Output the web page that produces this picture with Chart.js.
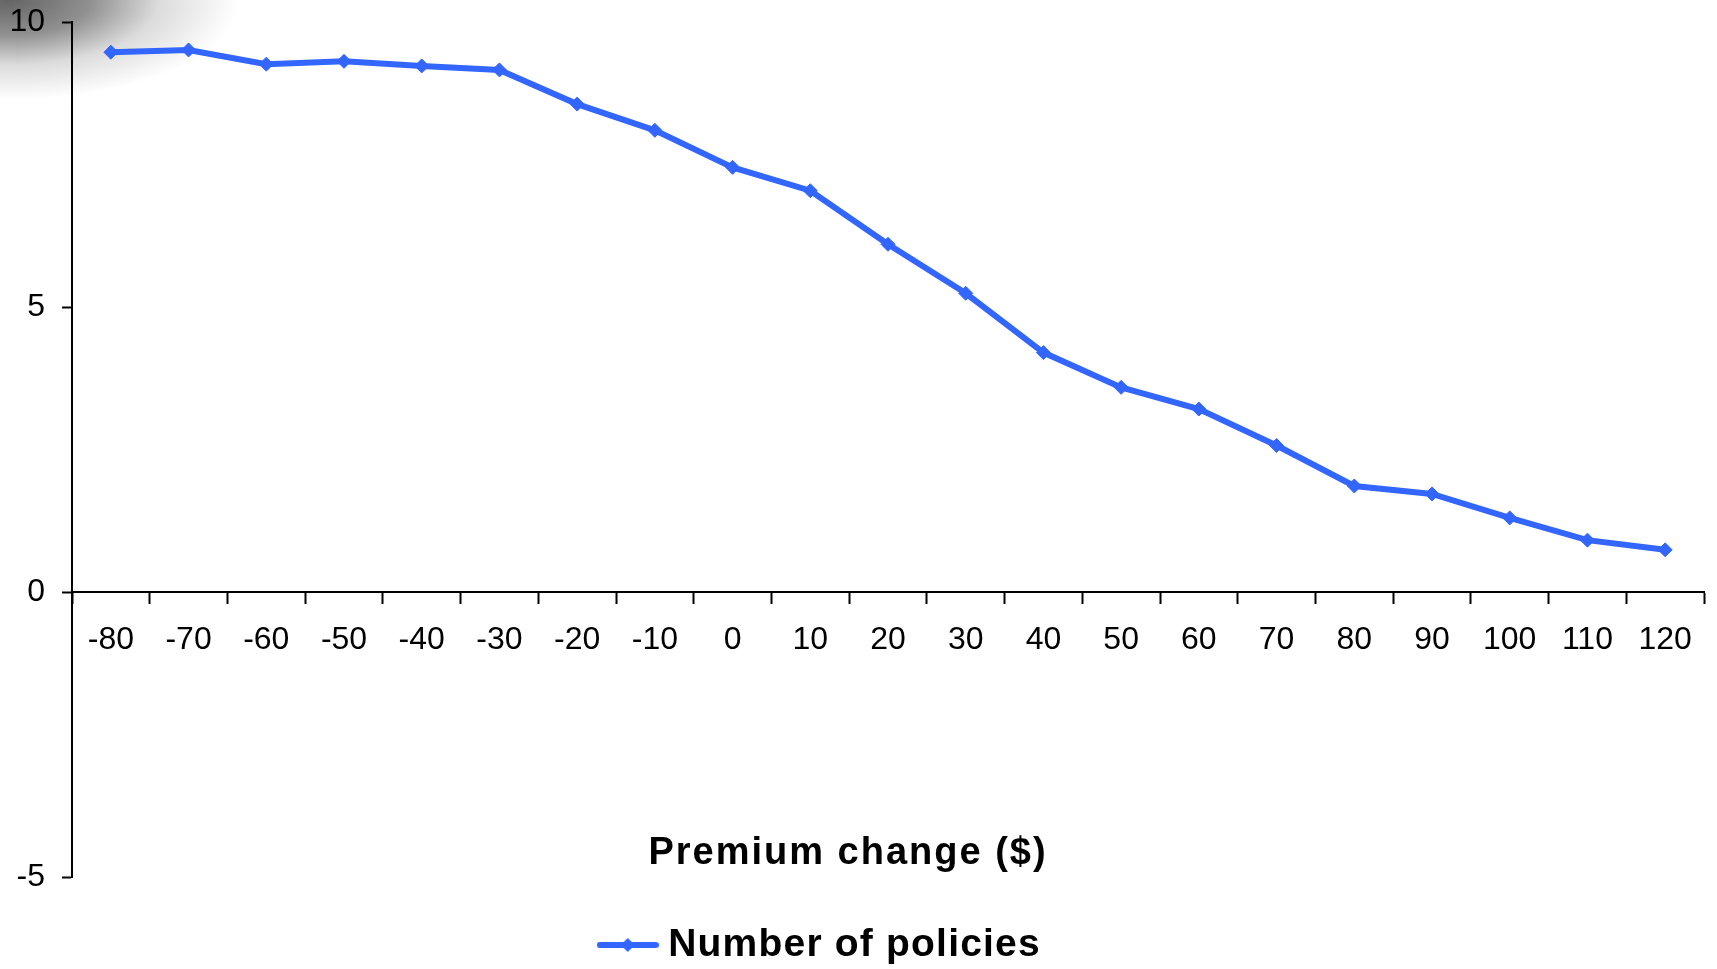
<!DOCTYPE html>
<html>
<head>
<meta charset="utf-8">
<script src="https://cdn.jsdelivr.net/npm/chart.js@4/dist/chart.umd.min.js"></script>
<style>
  html, body { margin: 0; padding: 0; }
  body {
    width: 1717px; height: 969px; overflow: hidden;
    background:
      radial-gradient(ellipse 230px 100px at 10px 0px, rgba(100,100,100,1) 0%, rgba(125,125,125,0.85) 35%, rgba(185,185,185,0.5) 65%, rgba(255,255,255,0) 100%),
      #ffffff;
  }
  #wrap { position: relative; width: 1717px; height: 969px; }
</style>
</head>
<body>
<div id="wrap"><canvas id="c"></canvas></div>
<script>
// ---- data ----
const categories = ["-80","-70","-60","-50","-40","-30","-20","-10","0","10","20","30","40","50","60","70","80","90","100","110","120"];
const policies = [9.47, 9.51, 9.26, 9.31, 9.23, 9.16, 8.56, 8.10, 7.45, 7.04, 6.10, 5.24, 4.20, 3.59, 3.21, 2.57, 1.86, 1.72, 1.30, 0.91, 0.74];
const seriesName = "Number of policies";
const xTitle = "Premium change ($)";
const yMin = -5, yMax = 10, yStep = 5;

const BLUE = '#3366FF';
const FONT = "'Liberation Sans', Arial, sans-serif";
const LEGEND_SIZE = 39;
const LEGEND_PAD = 7;

// legend symbol: line with diamond
const sym = document.createElement('canvas');
sym.width = 62; sym.height = 18;
(function () {
  const g = sym.getContext('2d');
  g.strokeStyle = BLUE; g.lineWidth = 6; g.lineCap = 'round';
  g.beginPath(); g.moveTo(3, 9); g.lineTo(59, 9); g.stroke();
  g.fillStyle = BLUE;
  g.beginPath(); g.moveTo(31, 2); g.lineTo(38, 9); g.lineTo(31, 16); g.lineTo(24, 9); g.closePath(); g.fill();
})();

const xTitlePlugin = {
  id: 'xTitlePlugin',
  afterDraw(chart) {
    const ctx = chart.ctx;
    ctx.save();
    ctx.font = "bold 38px " + FONT;
    try { ctx.letterSpacing = '2px'; } catch (e) {}
    ctx.fillStyle = '#000';
    ctx.textAlign = 'center';
    ctx.textBaseline = 'middle';
    ctx.fillText(xTitle, 848, 854);
    ctx.restore();
  }
};

const legendPlace = {
  id: 'legendPlace',
  afterLayout(chart) {
    const lg = chart.legend;
    if (!lg) return;
    lg.left -= 45; lg.right -= 45;
    const dy = 945 - (lg.top + LEGEND_PAD + LEGEND_SIZE / 2);
    lg.top += dy; lg.bottom += dy;
    if (!lg._spacedDraw) {
      const orig = lg.draw;
      lg.draw = function (...args) {
        const c = this.ctx;
        const prev = c.letterSpacing;
        try { c.letterSpacing = '1.2px'; } catch (e) {}
        orig.apply(this, args);
        try { c.letterSpacing = prev || '0px'; } catch (e) {}
      };
      lg._spacedDraw = true;
    }
  }
};

new Chart(document.getElementById('c'), {
  type: 'line',
  data: {
    labels: categories,
    datasets: [{
      label: seriesName,
      data: policies,
      borderColor: BLUE,
      backgroundColor: BLUE,
      borderWidth: 6,
      tension: 0,
      pointStyle: 'rectRot',
      pointRadius: 7,
      pointBorderWidth: 1,
      pointBackgroundColor: BLUE,
      pointBorderColor: BLUE,
      fill: false
    }]
  },
  options: {
    responsive: true,
    maintainAspectRatio: false,
    animation: false,
    layout: { padding: { top: 22, left: 12, right: 13, bottom: 36 } },
    plugins: {
      title: { display: false },
      tooltip: { enabled: false },
      legend: {
        display: true,
        position: 'bottom',
        labels: {
          color: '#000',
          font: { family: FONT, size: LEGEND_SIZE, weight: 'bold' },
          usePointStyle: true,
          pointStyleWidth: 42,
          padding: LEGEND_PAD,
          generateLabels(chart) {
            return chart.data.datasets.map((ds, i) => ({
              text: ds.label,
              fillStyle: BLUE,
              strokeStyle: BLUE,
              lineWidth: 0,
              pointStyle: sym,
              hidden: false,
              datasetIndex: i,
              fontColor: '#000'
            }));
          }
        }
      }
    },
    scales: {
      x: {
        type: 'category',
        position: { y: 0 },
        offset: true,
        grid: {
          offset: true,
          drawOnChartArea: false,
          drawTicks: true,
          tickLength: 11,
          tickWidth: 2,
          tickColor: '#000'
        },
        border: { display: true, color: '#000', width: 2 },
        ticks: {
          color: '#000',
          font: { family: FONT, size: 32 },
          padding: 18,
          maxRotation: 0,
          autoSkip: false
        }
      },
      y: {
        type: 'linear',
        position: 'left',
        min: yMin,
        max: yMax,
        afterFit(scale) { scale.width = 60; scale.paddingTop = 0; scale.paddingBottom = 0; },
        grid: {
          drawOnChartArea: false,
          drawTicks: true,
          tickLength: 10,
          tickWidth: 2,
          tickColor: '#000'
        },
        border: { display: true, color: '#000', width: 2 },
        ticks: {
          stepSize: yStep,
          color: '#000',
          font: { family: FONT, size: 32 },
          padding: 17
        }
      }
    }
  },
  plugins: [xTitlePlugin, legendPlace]
});
</script>
</body>
</html>
